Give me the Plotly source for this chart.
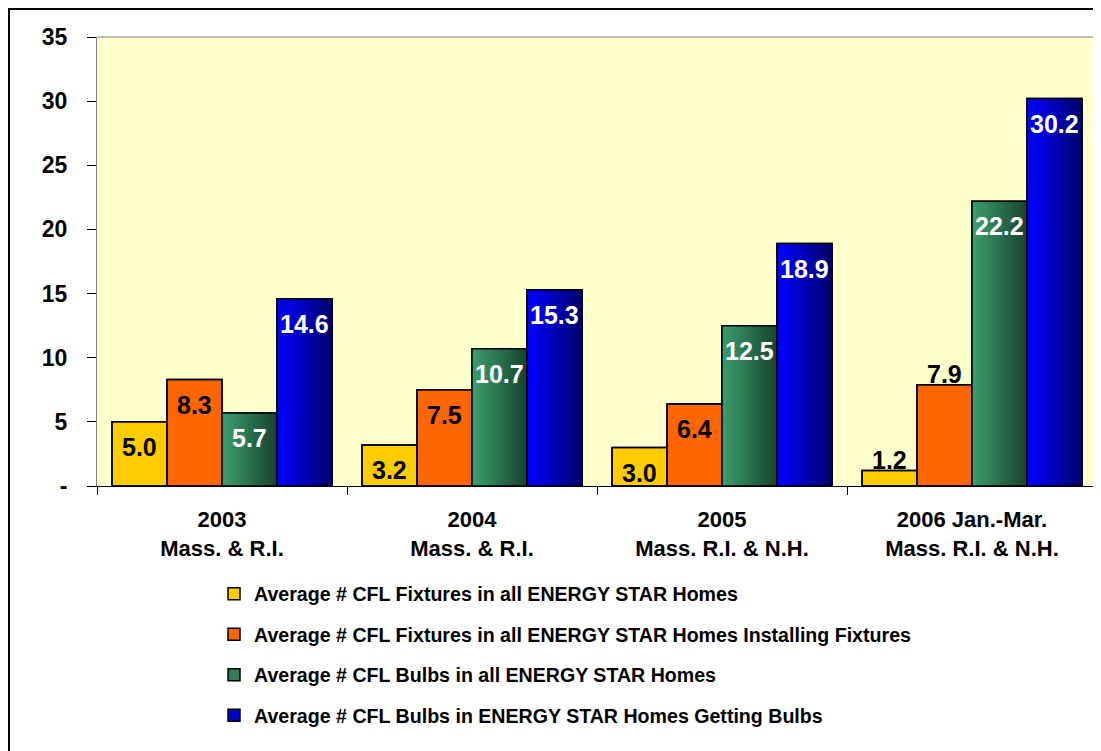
import plotly.graph_objects as go

categories = ["2003<br>Mass. & R.I.", "2004<br>Mass. & R.I.",
              "2005<br>Mass. R.I. & N.H.", "2006 Jan.-Mar.<br>Mass. R.I. & N.H."]

series_names = [
    "Average # CFL Fixtures in all ENERGY STAR Homes",
    "Average # CFL Fixtures in all ENERGY STAR Homes Installing Fixtures",
    "Average # CFL Bulbs in all ENERGY STAR Homes",
    "Average # CFL Bulbs in ENERGY STAR Homes Getting Bulbs",
]
fixtures_all = [5.0, 3.2, 3.0, 1.2]
fixtures_installing = [8.3, 7.5, 6.4, 7.9]
bulbs_all = [5.7, 10.7, 12.5, 22.2]
bulbs_getting = [14.6, 15.3, 18.9, 30.2]

y_ticks = [0, 5, 10, 15, 20, 25, 30, 35]
y_ticktext = ["-", "5", "10", "15", "20", "25", "30", "35"]

all_values = [fixtures_all, fixtures_installing, bulbs_all, bulbs_getting]
# (left colour, right colour) -> gradient; same colour -> flat
fills = [("#FFCC00", "#FFCC00"), ("#FF6600", "#FF6600"),
         ("#3A9C6C", "#1A4530"), ("#0000FF", "#000070")]
text_colors = ["black", "black", "white", "white"]
# labels that sit above the bar instead of inside it: (series, category index)
outside_labels = {(0, 3), (1, 3)}

bar_w = 0.22
font = "Arial, Liberation Sans, sans-serif"


def mix(c1, c2, t):
    a = [int(c1[i:i + 2], 16) for i in (1, 3, 5)]
    b = [int(c2[i:i + 2], 16) for i in (1, 3, 5)]
    return "#" + "".join(f"{round(a[k] + (b[k] - a[k]) * t):02X}" for k in range(3))


fig = go.Figure()
annotations = []

for s, vals in enumerate(all_values):
    off = -2 * bar_w + s * bar_w
    left, right = fills[s]
    # legend entry / base fill
    fig.add_trace(go.Bar(
        x=categories, y=vals, name=series_names[s], legendgroup=str(s),
        offset=off, width=bar_w, marker=dict(color=mix(left, right, 0.35),
                                              line=dict(color="black", width=1.5)),
        hoverinfo="skip"))
    if left != right:
        n = 14
        for i in range(n):
            fig.add_trace(go.Bar(
                x=categories, y=vals, showlegend=False, legendgroup=str(s),
                offset=off + i * bar_w / n, width=bar_w / n * 1.15,
                marker=dict(color=mix(left, right, i / (n - 1)), line=dict(width=0)),
                hoverinfo="skip"))
    # outline on top
    fig.add_trace(go.Bar(
        x=categories, y=vals, showlegend=False, legendgroup=str(s),
        offset=off, width=bar_w,
        marker=dict(color="rgba(0,0,0,0)", line=dict(color="black", width=1.5))))
    # value labels
    for c, v in enumerate(vals):
        outside = (s, c) in outside_labels
        annotations.append(dict(
            x=c + off + bar_w / 2, y=v, xref="x", yref="y", text=f"{v:.1f}",
            showarrow=False, yanchor="bottom" if outside else "top",
            yshift=-5 if outside else -9,
            font=dict(family=font, size=25, weight="bold",
                      color="black" if outside else text_colors[s])))

fig.update_layout(
    barmode="overlay",
    width=1101, height=751,
    margin=dict(l=89, r=12, t=29, b=273),
    paper_bgcolor="white",
    plot_bgcolor="#FFFFCC",
    font=dict(family=font, size=18, color="black"),
    showlegend=True,
    legend=dict(x=0.117, y=-0.197, xanchor="left", yanchor="top",
                traceorder="grouped", tracegroupgap=12,
                font=dict(family=font, size=19.6, color="black", weight="bold"),
                itemwidth=30, bgcolor="rgba(0,0,0,0)"),
    xaxis=dict(type="category", tickson="boundaries", ticks="outside", ticklen=8,
               tickcolor="black", showline=True, linecolor="black", linewidth=1,
               mirror=False, showgrid=False, tickangle=0, ticklabelstandoff=14,
               tickfont=dict(family=font, size=22, color="black", weight="bold")),
    yaxis=dict(range=[0, 35], tickvals=y_ticks, ticktext=y_ticktext,
               ticks="outside", ticklen=9, tickcolor="black", showline=True,
               linecolor="#808080", linewidth=1, showgrid=False, zeroline=False,
               ticklabelstandoff=15,
               tickfont=dict(family=font, size=23, color="black", weight="bold")),
    annotations=annotations,
    shapes=[
        dict(type="line", xref="paper", yref="paper", x0=1, x1=1, y0=0, y1=1,
             line=dict(color="#808080", width=1)),
        dict(type="line", xref="paper", yref="paper", x0=0, x1=1, y0=1, y1=1,
             line=dict(color="#808080", width=1)),
        dict(type="rect", xref="paper", yref="paper", x0=-0.088, x1=1.03,
             y0=-0.63, y1=1.0625, line=dict(color="black", width=2),
             fillcolor="rgba(0,0,0,0)", layer="below"),
    ],
)

fig.write_html("out.html")
